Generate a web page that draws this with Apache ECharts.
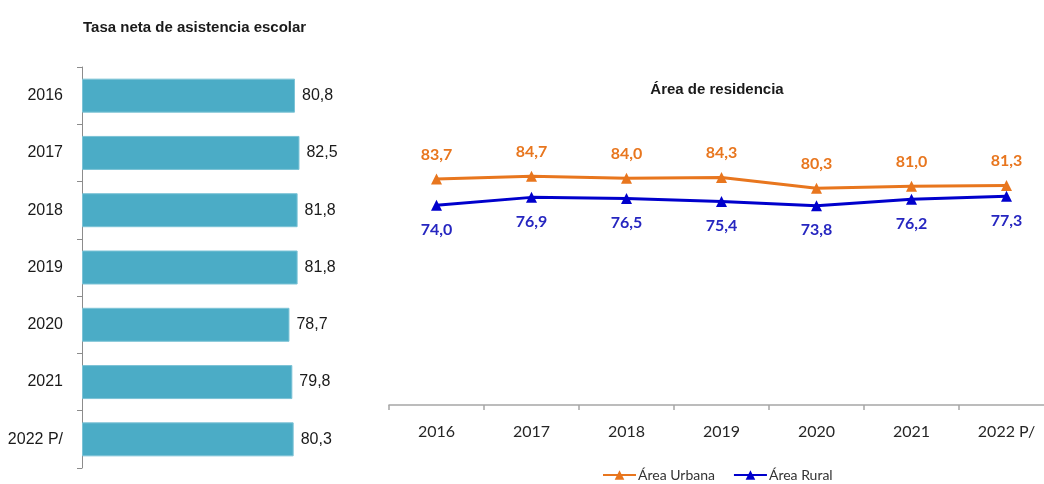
<!DOCTYPE html>
<html>
<head>
<meta charset="utf-8">
<script src="https://cdn.jsdelivr.net/npm/echarts@6/dist/echarts.min.js"></script>
<style>
html,body{margin:0;padding:0;background:#fff;}
#main{width:1044px;height:484px;}
</style>
</head>
<body>
<div id="main"></div>
<script>
// datos
var anios = ['2016','2017','2018','2019','2020','2021','2022 P/'];
var asistencia = [80.8, 82.5, 81.8, 81.8, 78.7, 79.8, 80.3];
var urbana = [83.7, 84.7, 84.0, 84.3, 80.3, 81.0, 81.3];
var rural = [74.0, 76.9, 76.5, 75.4, 73.8, 76.2, 77.3];

var narrow = '"Liberation Sans Narrow","Arial Narrow","Liberation Sans",sans-serif';
var cal = 'Lato,"Open Sans",sans-serif';

function coma(p){ return p.value.toFixed(1).replace('.', ','); }

var myChart = echarts.init(document.getElementById('main'));
var option = {
	animation: false,
	title: [
		{text: 'Tasa neta de asistencia escolar', left: 78, top: 15,
			textStyle: {fontFamily: narrow, fontSize: 15, fontWeight: 'bold', color: '#1a1a1a'}},
		{text: 'Área de residencia', left: 712, top: 77, textAlign: 'center',
			textStyle: {fontFamily: narrow, fontSize: 15, fontWeight: 'bold', color: '#1a1a1a'}}
	],
	legend: {
		data: ['Área Urbana', 'Área Rural'],
		left: 597, top: 463,
		itemWidth: 33, itemHeight: 12, itemGap: 18,
		textStyle: {fontFamily: cal, fontSize: 14, color: '#333', padding: [0,0,0,-3]}
	},
	grid: [
		{left: 82, top: 67, width: 263.6, height: 401, outerBoundsMode: 'none'},
		{left: 389, top: 135, width: 665, height: 270, outerBoundsMode: 'none'}
	],
	xAxis: [
		{gridIndex: 0, type: 'value', min: 0, max: 100, show: false},
		{gridIndex: 1, type: 'category', data: anios, boundaryGap: true,
			axisLine: {lineStyle: {color: '#a6a6a6', width: 1.5}},
			axisTick: {show: true, length: 5, lineStyle: {color: '#a6a6a6', width: 1.5}},
			axisLabel: {fontFamily: cal, fontSize: 16, color: '#262626', margin: 19}}
	],
	yAxis: [
		{gridIndex: 0, type: 'category', data: anios, inverse: true,
			axisLine: {lineStyle: {color: '#8c8c8c'}},
			axisTick: {show: true, length: 5, lineStyle: {color: '#8c8c8c'}},
			axisLabel: {fontFamily: narrow, fontSize: 16, color: '#1a1a1a', margin: 19}},
		{gridIndex: 1, type: 'value', min: 0, max: 100, show: false}
	],
	series: [
		{
			name: 'Tasa', type: 'bar', xAxisIndex: 0, yAxisIndex: 0,
			data: asistencia, barWidth: 34,
			itemStyle: {color: '#4BACC6', borderColor: '#7cc3d6', borderWidth: 1},
			label: {show: true, position: 'right', distance: 7, formatter: coma,
				fontFamily: narrow, fontSize: 16, color: '#1a1a1a'}
		},
		{
			name: 'Área Urbana', type: 'line', xAxisIndex: 1, yAxisIndex: 1,
			data: urbana, symbol: 'triangle', symbolSize: 11,
			lineStyle: {color: '#E8761E', width: 3},
			itemStyle: {color: '#E8761E'},
			label: {show: true, position: 'top', distance: 11, formatter: coma,
				fontFamily: cal, fontSize: 16, fontWeight: 'bold', color: '#E8761E'}
		},
		{
			name: 'Área Rural', type: 'line', xAxisIndex: 1, yAxisIndex: 1,
			data: rural, symbol: 'triangle', symbolSize: 11,
			lineStyle: {color: '#0000CC', width: 3},
			itemStyle: {color: '#0000CC'},
			label: {show: true, position: 'bottom', distance: 11, formatter: coma,
				fontFamily: cal, fontSize: 16, fontWeight: 'bold', color: '#2626c0'}
		}
	]
};
myChart.setOption(option);
</script>
</body>
</html>
